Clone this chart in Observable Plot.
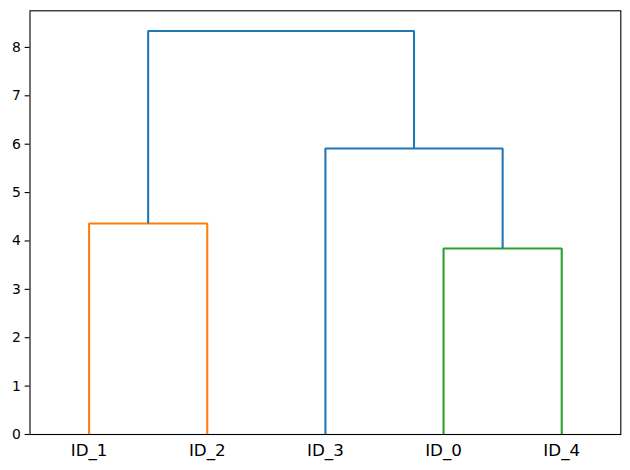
<!DOCTYPE html>
<html>
<head>
<meta charset="utf-8">
<script src="https://cdn.jsdelivr.net/npm/d3@7"></script>
<script src="https://cdn.jsdelivr.net/npm/@observablehq/plot@0.6"></script>
<style>
  html, body { margin: 0; padding: 0; background: #fff; }
  svg { display: block; }
</style>
</head>
<body>
<div id="chart"></div>
<script>
// Leaf order as drawn (left to right)
const leaves = ["ID_1", "ID_2", "ID_3", "ID_0", "ID_4"];
// Merges (in order of linkage): child A, child B, height, colour
// merge nodes are named m0, m1, m2, m3
const mergeA = ["ID_0", "ID_1", "ID_3", "m1"];
const mergeB = ["ID_4", "ID_2", "m0", "m2"];
const mergeHeight = [3.845, 4.36, 5.91, 8.34];
const mergeColor = ["#2ca02c", "#ff7f0e", "#1f77b4", "#1f77b4"];
const yTicks = [0, 1, 2, 3, 4, 5, 6, 7, 8];

// Build node positions (scipy dendrogram convention: leaf i at 5 + 10 i)
const pos = new Map();
leaves.forEach((id, i) => pos.set(id, {x: 5 + 10 * i, y: 0}));
mergeHeight.forEach((h, i) => {
  const a = pos.get(mergeA[i]), b = pos.get(mergeB[i]);
  const l = a.x <= b.x ? a : b, r = a.x <= b.x ? b : a;
  pos.set("m" + i, {x: (l.x + r.x) / 2, y: h, l, r});
});
const segs = [];
mergeHeight.forEach((h, i) => {
  const n = pos.get("m" + i);
  segs.push({k: i, x: n.l.x, y: n.l.y, c: mergeColor[i]});
  segs.push({k: i, x: n.l.x, y: h, c: mergeColor[i]});
  segs.push({k: i, x: n.r.x, y: h, c: mergeColor[i]});
  segs.push({k: i, x: n.r.x, y: n.r.y, c: mergeColor[i]});
});
const leafX = leaves.map((id) => pos.get(id).x);
const yMax = d3.max(mergeHeight) * 1.05;

const chart = Plot.plot({
  width: 630,
  height: 470,
  marginLeft: 29.5,
  marginRight: 9.7,
  marginTop: 10.3,
  marginBottom: 36,
  style: {fontFamily: "DejaVu Sans", fontSize: "13.9px", color: "#000", background: "#fff"},
  x: {domain: [0, leaves.length * 10]},
  y: {domain: [0, yMax]},
  marks: [
    Plot.line(segs, {x: "x", y: "y", z: "k", stroke: "c", strokeWidth: 2.08, strokeLinejoin: "miter", strokeLinecap: "butt"}),
    Plot.frame({stroke: "#000", strokeWidth: 1.1}),
    Plot.axisY({ticks: yTicks, tickSize: 4.86, tickPadding: 4.4, label: null, tickFormat: (d) => String(d), fontSize: 13.9, strokeWidth: 1.1}),
    Plot.axisX({ticks: leafX, tickSize: 0, tickPadding: 9.5, label: null, tickFormat: (d, i) => leaves[leafX.indexOf(d)], fontSize: 16.7})
  ]
});
document.getElementById("chart").appendChild(chart);
</script>
</body>
</html>
